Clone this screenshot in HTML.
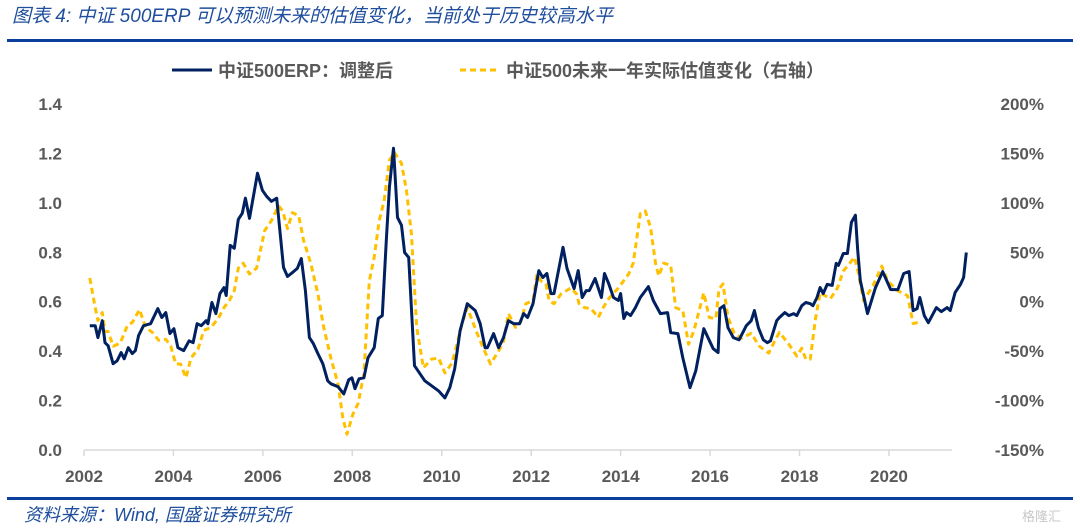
<!DOCTYPE html>
<html><head><meta charset="utf-8"><style>
body{margin:0;background:#fff;}
svg{display:block;font-family:"Liberation Sans","Noto Sans CJK SC",sans-serif;}
.ax{font-size:17px;font-weight:bold;fill:#595959;}
</style></head><body>
<svg id="chart" width="1080" height="530" viewBox="0 0 1080 530">
<text x="12" y="22" font-size="19" font-style="italic" fill="#1f4e9c">图表 4:  中证 500ERP 可以预测未来的估值变化，当前处于历史较高水平</text>
<rect x="7" y="39" width="1066" height="3" fill="#0a3f9c"/>
<g>
<g>
<line x1="172" y1="70" x2="212" y2="70" stroke="#002060" stroke-width="3"/>
<text x="218" y="77" font-size="18" fill="#595959" font-weight="bold">中证500ERP：调整后</text></g>
<g>
<line x1="460" y1="70" x2="500" y2="70" stroke="#FFC000" stroke-width="3" stroke-dasharray="6,4"/>
<text x="506" y="77" font-size="18" fill="#595959" font-weight="bold">中证500未来一年实际估值变化（右轴）</text></g>
</g>
<g id="axes"></g>
<g id="series"></g>
<rect x="7" y="497" width="1066" height="3" fill="#0a3f9c"/>
<text x="24" y="521" font-size="18" font-style="italic" fill="#1f4e9c">资料来源：Wind, 国盛证券研究所</text>
<text x="1022" y="521" font-size="13" fill="#c8c8c8">格隆汇</text>
</svg>
<script>
const leftTicks=[0,0.2,0.4,0.6,0.8,1.0,1.2,1.4];
const rightTicks=[-150,-100,-50,0,50,100,150,200];
const yearTicks=[2002,2004,2006,2008,2010,2012,2014,2016,2018,2020];
const erpT=[2002.13,2002.25,2002.31,2002.41,2002.47,2002.54,2002.65,2002.74,2002.83,2002.90,2002.99,2003.08,2003.15,2003.22,2003.33,2003.49,2003.65,2003.74,2003.83,2003.92,2004.01,2004.10,2004.23,2004.35,2004.44,2004.53,2004.62,2004.73,2004.77,2004.86,2004.95,2005.04,2005.13,2005.18,2005.27,2005.36,2005.45,2005.54,2005.61,2005.70,2005.88,2005.99,2006.08,2006.19,2006.31,2006.46,2006.55,2006.66,2006.77,2006.86,2006.95,2007.04,2007.13,2007.23,2007.34,2007.45,2007.52,2007.68,2007.81,2007.92,2007.99,2008.06,2008.15,2008.26,2008.35,2008.49,2008.58,2008.67,2008.76,2008.83,2008.92,2009.01,2009.10,2009.17,2009.26,2009.39,2009.62,2009.77,2009.93,2010.07,2010.18,2010.29,2010.41,2010.57,2010.75,2010.86,2010.97,2011.02,2011.16,2011.27,2011.38,2011.49,2011.61,2011.74,2011.83,2011.92,2012.04,2012.17,2012.26,2012.35,2012.44,2012.51,2012.71,2012.80,2012.96,2013.05,2013.14,2013.23,2013.30,2013.43,2013.57,2013.64,2013.73,2013.84,2013.95,2014.00,2014.07,2014.13,2014.22,2014.33,2014.44,2014.62,2014.73,2014.89,2015.05,2015.12,2015.28,2015.39,2015.55,2015.68,2015.86,2016.07,2016.18,2016.22,2016.31,2016.40,2016.52,2016.65,2016.81,2016.92,2016.99,2017.08,2017.19,2017.28,2017.35,2017.49,2017.55,2017.67,2017.76,2017.87,2017.94,2018.05,2018.14,2018.24,2018.30,2018.39,2018.46,2018.53,2018.62,2018.73,2018.82,2018.87,2018.98,2019.07,2019.16,2019.25,2019.30,2019.36,2019.52,2019.70,2019.86,2020.04,2020.20,2020.33,2020.45,2020.54,2020.63,2020.69,2020.79,2020.88,2021.06,2021.17,2021.30,2021.37,2021.48,2021.60,2021.67,2021.73];
const erpV=[0.503,0.503,0.455,0.523,0.434,0.422,0.349,0.361,0.394,0.369,0.414,0.390,0.402,0.463,0.503,0.511,0.572,0.536,0.556,0.471,0.491,0.414,0.402,0.442,0.434,0.511,0.503,0.523,0.511,0.597,0.552,0.633,0.657,0.625,0.828,0.816,0.933,0.958,1.019,0.937,1.120,1.051,1.027,1.006,1.019,0.739,0.702,0.718,0.735,0.775,0.645,0.455,0.430,0.390,0.349,0.280,0.268,0.256,0.227,0.284,0.292,0.248,0.288,0.292,0.373,0.414,0.532,0.544,0.848,1.063,1.221,0.941,0.909,0.799,0.779,0.341,0.280,0.260,0.239,0.211,0.252,0.329,0.483,0.592,0.564,0.511,0.414,0.414,0.471,0.414,0.455,0.523,0.511,0.511,0.552,0.536,0.592,0.726,0.698,0.714,0.633,0.633,0.820,0.735,0.653,0.726,0.617,0.645,0.645,0.694,0.617,0.714,0.674,0.617,0.605,0.633,0.532,0.556,0.544,0.576,0.617,0.661,0.605,0.552,0.556,0.475,0.471,0.373,0.252,0.321,0.491,0.410,0.394,0.572,0.584,0.495,0.455,0.446,0.503,0.523,0.564,0.495,0.446,0.434,0.442,0.523,0.536,0.556,0.544,0.552,0.544,0.584,0.597,0.592,0.584,0.617,0.657,0.633,0.670,0.666,0.755,0.747,0.795,0.795,0.921,0.950,0.808,0.686,0.552,0.657,0.722,0.649,0.649,0.714,0.722,0.564,0.572,0.617,0.544,0.515,0.576,0.560,0.576,0.564,0.637,0.670,0.698,0.799];
const chgT=[2002.13,2002.25,2002.31,2002.41,2002.47,2002.54,2002.65,2002.81,2002.97,2003.08,2003.24,2003.38,2003.53,2003.67,2003.83,2003.94,2004.05,2004.16,2004.28,2004.39,2004.55,2004.68,2004.84,2005.00,2005.13,2005.25,2005.36,2005.45,2005.56,2005.70,2005.86,2006.04,2006.19,2006.35,2006.44,2006.55,2006.66,2006.80,2006.91,2007.07,2007.23,2007.36,2007.52,2007.68,2007.79,2007.88,2008.01,2008.13,2008.26,2008.38,2008.49,2008.60,2008.71,2008.83,2008.94,2009.10,2009.21,2009.32,2009.44,2009.59,2009.77,2009.93,2010.07,2010.23,2010.34,2010.46,2010.57,2010.79,2010.93,2011.09,2011.27,2011.38,2011.49,2011.65,2011.76,2011.88,2012.04,2012.13,2012.22,2012.33,2012.40,2012.51,2012.67,2012.89,2013.01,2013.07,2013.19,2013.34,2013.50,2013.61,2013.73,2013.95,2014.18,2014.28,2014.44,2014.55,2014.67,2014.78,2014.85,2014.96,2015.12,2015.23,2015.39,2015.52,2015.64,2015.86,2015.98,2016.13,2016.20,2016.29,2016.40,2016.54,2016.70,2016.92,2017.10,2017.31,2017.44,2017.55,2017.76,2017.94,2018.05,2018.14,2018.24,2018.35,2018.46,2018.69,2018.85,2018.98,2019.09,2019.23,2019.32,2019.43,2019.64,2019.84,2019.97,2020.20,2020.42,2020.54,2020.65];
const chgV=[24,-6,-19,-11,-30,-30,-45,-42,-24,-21,-8,-26,-31,-39,-38,-45,-63,-63,-77,-57,-48,-29,-26,-17,-6,1,11,34,39,28,34,72,82,97,92,74,90,87,62,39,8,-26,-57,-83,-118,-134,-114,-103,-73,21,45,82,102,143,151,140,113,69,-26,-67,-58,-57,-72,-62,-43,-21,-6,-32,-47,-63,-50,-40,-12,-26,-21,-2,1,28,21,18,1,-2,8,14,8,-2,-6,-7,-16,-6,3,14,28,39,89,92,75,39,26,39,37,-6,-9,-43,-29,9,-16,-17,13,18,-16,-32,-37,-32,-45,-52,-40,-31,-43,-55,-47,-58,-58,-19,9,3,14,31,37,45,28,1,16,36,21,11,6,-22,-21];

const NS='http://www.w3.org/2000/svg';
const X0=84, PXY=44.72, YB=450, H=346;
const xS=t=>X0+(t-2002)*PXY;
const yL=v=>YB-v/1.4*H;
const yR=p=>YB-(p+150)/350*H;
const axes=document.getElementById('axes'), series=document.getElementById('series');
function mk(tag,attrs,parent){const e=document.createElementNS(NS,tag);for(const k in attrs)e.setAttribute(k,attrs[k]);parent.appendChild(e);return e;}

const base=mk('line',{x1:xS(2002),y1:YB,x2:952,y2:YB,stroke:'#d9d9d9','stroke-width':1.5},axes);


yearTicks.forEach(yr=>{
  const tk=mk('line',{x1:xS(yr),y1:YB,x2:xS(yr),y2:YB+6,stroke:'#d9d9d9','stroke-width':1.5},axes);
  
  
  const t=mk('text',{x:xS(yr),y:482,'text-anchor':'middle',class:'ax'},axes);
  t.textContent=yr;
  
  
});
leftTicks.forEach(v=>{
  const t=mk('text',{x:62,y:yL(v)+6,'text-anchor':'end',class:'ax'},axes);
  t.textContent=v.toFixed(1);
  
  
});
rightTicks.forEach(p=>{
  const t=mk('text',{x:1044,y:yR(p)+6,'text-anchor':'end',class:'ax'},axes);
  t.textContent=p+'%';
  
  
});
const pOr=mk('path',{d:chgT.map((t,i)=>(i?'L':'M')+xS(t).toFixed(1)+','+yR(chgV[i]).toFixed(1)).join(''),fill:'none',stroke:'#FFC000','stroke-width':3,'stroke-dasharray':'6,4','stroke-linejoin':'round'},series);


const pB=mk('path',{d:erpT.map((t,i)=>(i?'L':'M')+xS(t).toFixed(1)+','+yL(erpV[i]).toFixed(1)).join(''),fill:'none',stroke:'#002060','stroke-width':3,'stroke-linejoin':'round'},series);


</script>
</body></html>
